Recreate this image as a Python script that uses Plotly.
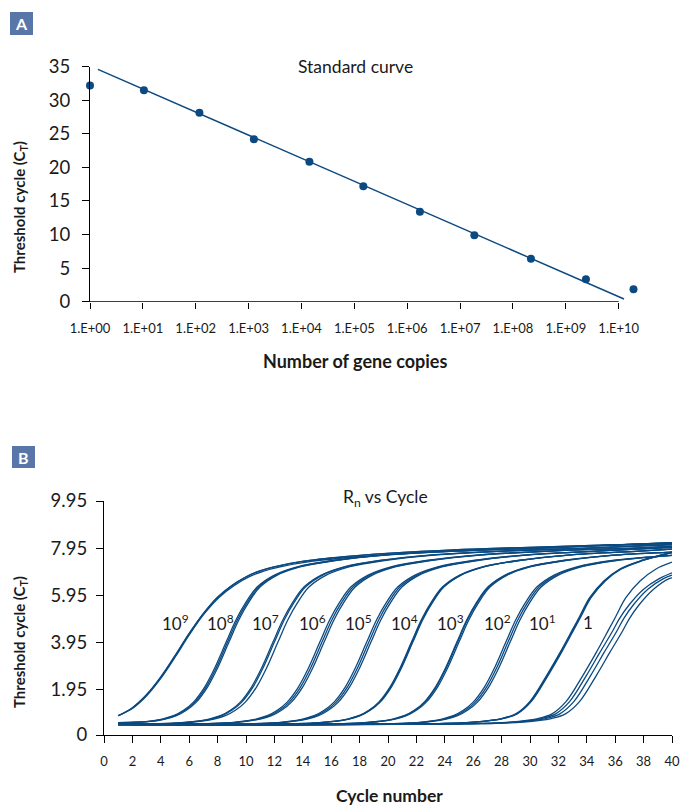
import plotly.graph_objects as go

# ---------------- Panel A data: standard curve ----------------
log_copies = [0.0, 1.02, 2.07, 3.10, 4.15, 5.17, 6.24, 7.27, 8.34, 9.38, 10.28]
ct_values = [32.2, 31.5, 28.15, 24.2, 20.85, 17.2, 13.4, 9.9, 6.4, 3.35, 1.85]
fit_log_copies = [0.15, 10.1]
fit_ct = [34.6, 0.4]
a_xtick_vals = [0, 1, 2, 3, 4, 5, 6, 7, 8, 9, 10]
a_xtick_text = ["1.E+00", "1.E+01", "1.E+02", "1.E+03", "1.E+04", "1.E+05",
                "1.E+06", "1.E+07", "1.E+08", "1.E+09", "1.E+10"]
a_ytick_vals = [0, 5, 10, 15, 20, 25, 30, 35]

# ---------------- Panel B data: amplification curves ----------------
b_xtick_vals = [0, 2, 4, 6, 8, 10, 12, 14, 16, 18, 20, 22, 24, 26, 28, 30, 32, 34, 36, 38, 40]
b_ytick_vals = [0, 1.95, 3.95, 5.95, 7.95, 9.95]
b_ytick_text = ["0", "1.95", "3.95", "5.95", "7.95", "9.95"]

g9_vals = [0.82, 1.15, 1.7, 2.45, 3.35, 4.3, 5.15, 5.85, 6.35, 6.72, 6.98, 7.15, 7.38, 7.58, 7.72, 7.88, 7.98, 8.07, 8.15]
g9_cycles = [
    [1, 2, 3, 4, 5, 6, 7, 8, 9, 10, 11, 12, 14, 17, 20, 25, 30, 35, 40],
    [1, 2.05, 3.05, 4.05, 5.05, 6.05, 7.05, 8.1, 9.15, 10.2, 11.3, 12.4, 14.6, 17.8, 21.2, 26.2, 31.2, 36, 40],
    [1, 1.97, 2.97, 3.97, 4.97, 5.97, 6.97, 7.97, 8.97, 9.97, 10.97, 11.97, 13.95, 16.9, 19.9, 24.9, 29.9, 34.9, 40],
]

g8_vals = [0.52, 0.58, 0.68, 0.82, 1.05, 1.4, 2.05, 2.85, 3.95, 4.9, 5.65, 6.3, 6.8, 7.15, 7.42, 7.65, 7.82, 7.95, 8.18]
g8_cycles = [
    [1, 3.1, 4.1, 4.9, 5.6, 6.3, 7.1, 7.8, 8.6, 9.3, 10.0, 10.8, 12.0, 13.6, 16.1, 19.6, 24.6, 30.6, 40],
    [1, 3.2, 4.2, 5.0, 5.7, 6.4, 7.2, 7.9, 8.7, 9.4, 10.1, 10.9, 12.1, 13.7, 16.2, 19.7, 24.7, 30.7, 40],
    [1, 3.3, 4.3, 5.1, 5.8, 6.5, 7.3, 8.0, 8.8, 9.5, 10.2, 11.0, 12.2, 13.8, 16.3, 19.8, 24.8, 30.8, 40],
]

g7_vals = [0.46, 0.5, 0.58, 0.68, 0.82, 1.05, 1.4, 2.05, 2.85, 3.95, 4.9, 5.65, 6.3, 6.8, 7.15, 7.42, 7.65, 7.82, 7.95, 8.1]
g7_cycles = [
    [1, 4.9, 6.4, 7.4, 8.2, 8.9, 9.6, 10.4, 11.1, 11.9, 12.6, 13.3, 14.1, 15.3, 16.9, 19.4, 22.9, 27.9, 33.9, 40],
    [1, 5.0, 6.5, 7.5, 8.3, 9.0, 9.7, 10.5, 11.2, 12.0, 12.7, 13.4, 14.2, 15.4, 17.0, 19.5, 23.0, 28.0, 34.0, 40],
    [1, 5.25, 6.75, 7.75, 8.55, 9.25, 9.95, 10.75, 11.45, 12.25, 12.95, 13.65, 14.45, 15.65, 17.25, 19.75, 23.25, 28.25, 34.25, 40],
]

g6_vals = [0.45, 0.5, 0.58, 0.68, 0.82, 1.05, 1.4, 2.05, 2.85, 3.95, 4.9, 5.65, 6.3, 6.8, 7.15, 7.42, 7.65, 7.82, 7.95, 8.02]
g6_cycles = [
    [1, 8.2, 9.7, 10.7, 11.5, 12.2, 12.9, 13.7, 14.4, 15.2, 15.9, 16.6, 17.4, 18.6, 20.2, 22.7, 26.2, 31.2, 37.2, 40],
    [1, 8.35, 9.85, 10.85, 11.65, 12.35, 13.05, 13.85, 14.55, 15.35, 16.05, 16.75, 17.55, 18.75, 20.35, 22.85, 26.35, 31.35, 37.35, 40],
    [1, 8.5, 10.0, 11.0, 11.8, 12.5, 13.2, 14.0, 14.7, 15.5, 16.2, 16.9, 17.7, 18.9, 20.5, 23.0, 26.5, 31.5, 37.5, 40],
]

g5_vals = [0.45, 0.5, 0.58, 0.68, 0.82, 1.05, 1.4, 2.05, 2.85, 3.95, 4.9, 5.65, 6.3, 6.8, 7.15, 7.42, 7.65, 7.82, 7.98]
g5_cycles = [
    [1, 11.5, 13.0, 14.0, 14.8, 15.5, 16.2, 17.0, 17.7, 18.5, 19.2, 19.9, 20.7, 21.9, 23.5, 26.0, 29.5, 34.5, 40],
    [1, 11.65, 13.15, 14.15, 14.95, 15.65, 16.35, 17.15, 17.85, 18.65, 19.35, 20.05, 20.85, 22.05, 23.65, 26.15, 29.65, 34.65, 40],
    [1, 11.8, 13.3, 14.3, 15.1, 15.8, 16.5, 17.3, 18.0, 18.8, 19.5, 20.2, 21.0, 22.2, 23.8, 26.3, 29.8, 34.8, 40],
]

g4_vals = [0.44, 0.5, 0.58, 0.68, 0.82, 1.05, 1.4, 2.05, 2.85, 3.95, 4.9, 5.65, 6.3, 6.8, 7.15, 7.42, 7.65, 7.82, 7.9]
g4_cycles = [
    [1, 14.65, 16.15, 17.15, 17.95, 18.65, 19.35, 20.15, 20.85, 21.65, 22.35, 23.05, 23.85, 25.05, 26.65, 29.15, 32.65, 37.65, 40],
    [1, 14.7, 16.2, 17.2, 18.0, 18.7, 19.4, 20.2, 20.9, 21.7, 22.4, 23.1, 23.9, 25.1, 26.7, 29.2, 32.7, 37.7, 40],
    [1, 14.75, 16.25, 17.25, 18.05, 18.75, 19.45, 20.25, 20.95, 21.75, 22.45, 23.15, 23.95, 25.15, 26.75, 29.25, 32.75, 37.75, 40],
]

g3_vals = [0.44, 0.5, 0.58, 0.68, 0.82, 1.05, 1.4, 2.05, 2.85, 3.95, 4.9, 5.65, 6.3, 6.8, 7.15, 7.42, 7.65, 7.78]
g3_cycles = [
    [1, 17.85, 19.35, 20.35, 21.15, 21.85, 22.55, 23.35, 24.05, 24.85, 25.55, 26.25, 27.05, 28.25, 29.85, 32.35, 35.85, 40],
    [1, 17.9, 19.4, 20.4, 21.2, 21.9, 22.6, 23.4, 24.1, 24.9, 25.6, 26.3, 27.1, 28.3, 29.9, 32.4, 35.9, 40],
    [1, 18.0, 19.5, 20.5, 21.3, 22.0, 22.7, 23.5, 24.2, 25.0, 25.7, 26.4, 27.2, 28.4, 30.0, 32.5, 36.0, 40],
]

g2_vals = [0.44, 0.5, 0.58, 0.68, 0.82, 1.05, 1.4, 2.05, 2.85, 3.95, 4.9, 5.65, 6.3, 6.8, 7.15, 7.42, 7.64]
g2_cycles = [
    [1, 21.3, 22.8, 23.8, 24.6, 25.3, 26.0, 26.8, 27.5, 28.3, 29.0, 29.7, 30.5, 31.7, 33.3, 35.8, 40],
    [1, 21.45, 22.95, 23.95, 24.75, 25.45, 26.15, 26.95, 27.65, 28.45, 29.15, 29.85, 30.65, 31.85, 33.45, 35.95, 40],
    [1, 21.6, 23.1, 24.1, 24.9, 25.6, 26.3, 27.1, 27.8, 28.6, 29.3, 30.0, 30.8, 32.0, 33.6, 36.1, 40],
]

g1_vals = [0.45, 0.48, 0.55, 0.7, 0.9, 1.43, 2.56, 3.49, 4.49, 5.05, 5.84, 6.55, 7.05, 7.41, 7.76]
g1_cycles = [
    [1, 23, 26, 28, 29, 30, 31.2, 32.1, 33.0, 33.5, 34.2, 35.2, 36.3, 37.8, 40],
    [1, 23.05, 26.05, 28.05, 29.05, 30.05, 31.25, 32.15, 33.05, 33.55, 34.25, 35.25, 36.35, 37.85, 40],
    [1, 23.1, 26.1, 28.1, 29.1, 30.1, 31.3, 32.2, 33.1, 33.6, 34.3, 35.3, 36.4, 37.9, 40],
]

g0_vals = [
    [0.45, 0.48, 0.55, 0.7, 0.9, 1.43, 2.56, 3.49, 4.49, 5.05, 5.84, 6.55, 7.05, 7.35],
    [0.45, 0.48, 0.55, 0.7, 0.9, 1.43, 2.56, 3.49, 4.4, 4.95, 5.55, 6.2, 6.65, 6.9],
    [0.45, 0.48, 0.55, 0.7, 0.9, 1.43, 2.56, 3.49, 4.4, 4.95, 5.55, 6.2, 6.65, 6.8],
    [0.45, 0.48, 0.55, 0.7, 0.9, 1.43, 2.56, 3.49, 4.4, 4.95, 5.55, 6.2, 6.65, 6.68],
]
g0_cycles = [
    [1, 25.55, 28.55, 30.55, 31.55, 32.55, 33.75, 34.65, 35.55, 36.05, 36.75, 37.75, 38.85, 40],
    [1, 25.8, 28.8, 30.8, 31.8, 32.8, 34.0, 34.9, 35.8, 36.3, 37.0, 38.0, 39.1, 40],
    [1, 26.1, 29.1, 31.1, 32.1, 33.1, 34.3, 35.2, 36.1, 36.6, 37.3, 38.3, 39.4, 40],
    [1, 26.5, 29.5, 31.5, 32.5, 33.5, 34.7, 35.6, 36.5, 37.0, 37.7, 38.7, 39.8, 40],
]

group_labels = ["10<sup>9</sup>", "10<sup>8</sup>", "10<sup>7</sup>", "10<sup>6</sup>", "10<sup>5</sup>",
                "10<sup>4</sup>", "10<sup>3</sup>", "10<sup>2</sup>", "10<sup>1</sup>", "1"]
label_cycle_pos = [5.0, 8.17, 11.34, 14.65, 17.89, 21.13, 24.37, 27.68, 30.85, 34.08]
label_value_pos = 4.79

# ---------------- styles ----------------
NAVY = "#0b4a80"
BOX = "#5876a8"
FONT = "Lato"
W, H = 680, 806


def px_x(p):
    return p / W


def px_y(p):
    return 1 - p / H


fig = go.Figure()

# Panel A
fig.add_trace(go.Scatter(x=fit_log_copies, y=fit_ct, mode="lines",
                         line=dict(color=NAVY, width=1.5), xaxis="x", yaxis="y",
                         showlegend=False, hoverinfo="skip"))
fig.add_trace(go.Scatter(x=log_copies, y=ct_values, mode="markers",
                         marker=dict(color=NAVY, size=8), xaxis="x", yaxis="y",
                         cliponaxis=False, showlegend=False))

# Panel B
groups = [
    ([g9_vals] * 3, g9_cycles),
    ([g8_vals] * 3, g8_cycles),
    ([g7_vals] * 3, g7_cycles),
    ([g6_vals] * 3, g6_cycles),
    ([g5_vals] * 3, g5_cycles),
    ([g4_vals] * 3, g4_cycles),
    ([g3_vals] * 3, g3_cycles),
    ([g2_vals] * 3, g2_cycles),
    ([g1_vals] * 3, g1_cycles),
    (g0_vals, g0_cycles),
]
for vals_list, cyc_list in groups:
    for v, c in zip(vals_list, cyc_list):
        fig.add_trace(go.Scatter(x=c, y=v, mode="lines",
                                 line=dict(color=NAVY, width=1.3, shape="spline", smoothing=1.0),
                                 xaxis="x2", yaxis="y2", showlegend=False, hoverinfo="skip"))

axis_common = dict(showgrid=False, zeroline=False, ticks="outside", tickcolor="black",
                   tickwidth=1.3, linecolor="black", linewidth=1.3, automargin=False,
                   fixedrange=True)

fig.update_layout(
    width=W, height=H,
    margin=dict(l=0, r=0, t=0, b=0),
    paper_bgcolor="white", plot_bgcolor="white",
    font=dict(family=FONT, color="#1a1a1a"),
    xaxis=dict(domain=[px_x(90), px_x(642.5)], range=[0, 10.45], anchor="y",
               tickvals=a_xtick_vals, ticktext=a_xtick_text, ticklen=6,
               tickfont=dict(size=13, family=FONT), ticklabelstandoff=9,
               showline=False, **axis_common),
    yaxis=dict(domain=[px_y(301.7), px_y(66.7)], range=[0, 35], anchor="x",
               tickvals=a_ytick_vals, ticklen=7, tickfont=dict(size=18.5, family=FONT),
               ticklabelstandoff=8, showline=True, **axis_common),
    xaxis2=dict(domain=[px_x(104), px_x(672)], range=[0, 40], anchor="y2",
                tickvals=b_xtick_vals, ticklen=7, tickfont=dict(size=13, family=FONT),
                ticklabelstandoff=7, showline=True, **axis_common),
    yaxis2=dict(domain=[px_y(735), px_y(501)], range=[0, 9.95], anchor="x2",
                tickvals=b_ytick_vals, ticktext=b_ytick_text, ticklen=7,
                tickfont=dict(size=18.5, family=FONT), ticklabelstandoff=5,
                showline=True, **axis_common),
)

# x axis line of panel A stops at the 1.E+10 tick
fig.add_shape(type="line", xref="x", yref="y", x0=0, x1=10, y0=0, y1=0,
              line=dict(color="black", width=1.3))

# Panel letter boxes
fig.add_shape(type="rect", xref="paper", yref="paper", x0=px_x(10), x1=px_x(33),
              y0=px_y(35), y1=px_y(12), fillcolor=BOX, line=dict(width=0))
fig.add_shape(type="rect", xref="paper", yref="paper", x0=px_x(12), x1=px_x(35),
              y0=px_y(468), y1=px_y(446), fillcolor=BOX, line=dict(width=0))


def note(text, x, y, size, angle=0, color="#1a1a1a", bold=False):
    t = "<b>%s</b>" % text if bold else text
    return dict(text=t, x=x, y=y, xref="paper", yref="paper", showarrow=False,
                xanchor="center", yanchor="middle", textangle=angle,
                font=dict(size=size, color=color, family=FONT))


ann = [
    note("A", px_x(21.5), px_y(23.5), 16, color="white", bold=True),
    note("B", px_x(23.5), px_y(457), 16, color="white", bold=True),
    note("Standard curve", px_x(355), px_y(66), 17.5),
    note("R<sub>n</sub> vs Cycle", px_x(385), px_y(498), 17.5),
    note("Number of gene copies", px_x(355), px_y(361), 18, bold=True),
    note("Cycle number", px_x(389), px_y(795), 17.5, bold=True),
    note("Threshold cycle (C<sub>T</sub>)", px_x(20), px_y(207), 15, angle=-90, bold=True),
    note("Threshold cycle (C<sub>T</sub>)", px_x(20), px_y(642), 15, angle=-90, bold=True),
]
for lab, cx in zip(group_labels, label_cycle_pos):
    ann.append(dict(text=lab, x=cx, y=label_value_pos, xref="x2", yref="y2",
                    xanchor="center", yanchor="middle",
                    showarrow=False, font=dict(size=17, family=FONT, color="#1a1a1a")))
fig.update_layout(annotations=ann)

fig.write_html("out.html")
